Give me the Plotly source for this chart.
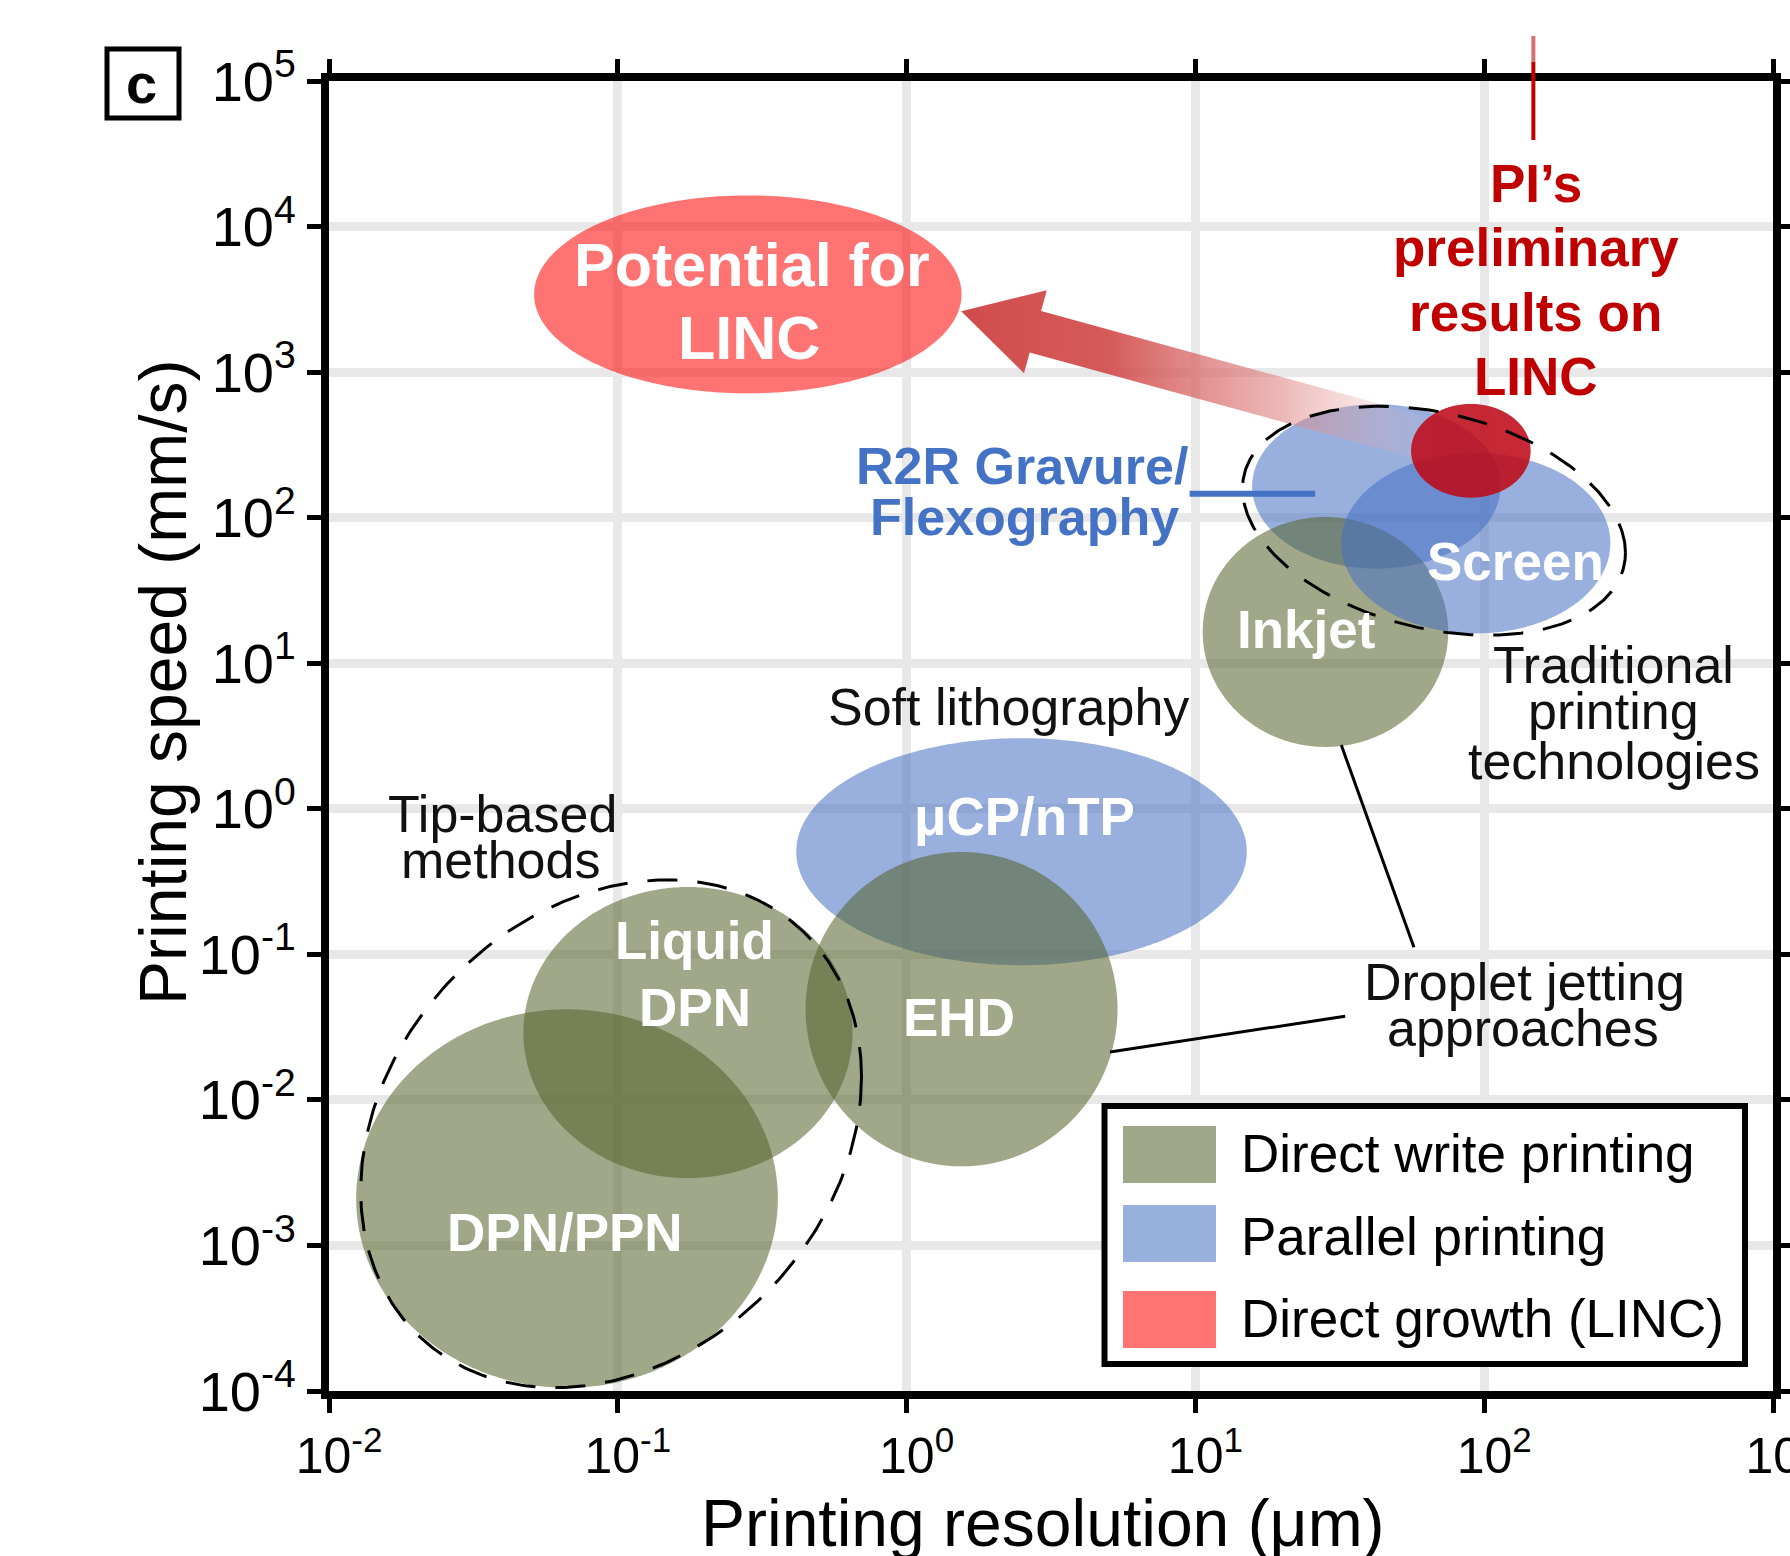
import numpy as np
import plotly.graph_objects as go

# ---------------- data ----------------
x_tick_exp = [-2, -1, 0, 1, 2, 3]
y_tick_exp = [-4, -3, -2, -1, 0, 1, 2, 3, 4, 5]
x_tick_labels = ["10<sup>-2</sup>", "10<sup>-1</sup>", "10<sup>0</sup>", "10<sup>1</sup>", "10<sup>2</sup>", "10<sup>3</sup>"]
y_tick_labels = ["10<sup>-4</sup>", "10<sup>-3</sup>", "10<sup>-2</sup>", "10<sup>-1</sup>", "10<sup>0</sup>",
                 "10<sup>1</sup>", "10<sup>2</sup>", "10<sup>3</sup>", "10<sup>4</sup>", "10<sup>5</sup>"]

# technology regions (drawing order); centre in µm / mm/s, half extent in decades
region_name = ["μCP/nTP", "DPN/PPN", "Liquid DPN", "EHD", "R2R Gravure/Flexography",
               "Inkjet", "Screen", "Potential for LINC", "PI’s preliminary results"]
region_cat = ["parallel", "direct", "direct", "direct", "parallel",
              "direct", "parallel", "linc", "pi"]
region_res_um = [2.50, 0.0667, 0.175, 1.55, 42.3, 28.2, 93.5, 0.282, 89.9]
region_speed = [0.507, 0.00210, 0.0290, 0.0420, 164, 16.4, 66.8, 3420, 288]
region_half_w_dec = [0.78, 0.73, 0.57, 0.54, 0.43, 0.425, 0.466, 0.74, 0.207]
region_half_h_dec = [0.78, 1.30, 1.00, 1.08, 0.565, 0.79, 0.62, 0.68, 0.322]

# dashed group outlines
group_name = ["Tip-based methods", "Traditional printing technologies"]
group_res_um = [0.0948, 67.0]
group_speed = [0.00585, 95.3]
group_half_w_dec = [0.867, 0.663]
group_half_h_dec = [1.70, 0.755]
group_tilt_dec = [0.39, -0.22]

# arrow from PI's results to the LINC potential
arrow_from = (75.5, 314.0)
arrow_to = (1.545, 2618.0)

# leader lines (µm, mm/s)
leader_res = [[32.0, 57.1], [5.06, 33.0]]
leader_speed = [[2.74, 0.1117], [0.0213, 0.0376]]
r2r_leader_res = [9.55, 26.0]
r2r_leader_speed = [146, 146]
pi_line_res = 148.0

# text labels
label_text = ["Potential for", "LINC", "PI’s", "preliminary", "results on", "LINC",
              "R2R Gravure/", "Flexography", "Screen", "Inkjet",
              "Traditional", "printing", "technologies", "Soft lithography",
              "μCP/nTP", "EHD", "Tip-based", "methods", "Liquid", "DPN", "DPN/PPN",
              "Droplet jetting", "approaches"]
label_res_um = [0.291, 0.284, 151, 151, 151, 151,
                2.51, 2.55, 128, 24.2,
                281, 281, 281, 2.25,
                2.55, 1.52, 0.0399, 0.0394, 0.185, 0.185, 0.0658,
                138, 136]
label_speed = [5410, 1710, 19800, 7180, 2550, 940,
               227, 101, 50.0, 17.1,
               9.68, 4.69, 2.13, 5.00,
               0.881, 0.0370, 0.925, 0.448, 0.125, 0.0434, 0.00123,
               0.0643, 0.0311]
label_style = ["linc", "linc", "pi", "pi", "pi", "pi",
               "r2r", "r2r", "inner", "inner",
               "note", "note", "note", "note",
               "inner", "inner", "note", "note", "inner", "inner", "inner",
               "note", "note"]

legend_labels = ["Direct write printing", "Parallel printing", "Direct growth (LINC)"]
legend_colors = ["#A0A88A", "#98B0DE", "#FF7373"]

# ---------------- styles ----------------
FONT = "Liberation Sans, Arial, sans-serif"
cat_fill = {"direct": "rgba(85,99,45,0.56)", "parallel": "rgba(69,112,195,0.55)",
            "linc": "rgba(255,0,0,0.55)", "pi": "rgba(190,10,25,0.88)"}
text_style = {"linc": dict(color="white", size=61, bold=True),
              "pi": dict(color="#C00000", size=53, bold=True),
              "r2r": dict(color="#4472C4", size=52, bold=True),
              "inner": dict(color="white", size=53, bold=True),
              "note": dict(color="#111111", size=52, bold=False)}

# plot geometry (for aspect-correct arrow)
ML, MR, MT, MB = 329, 17, 81, 165
PLOT_W, PLOT_H = 1790 - ML - MR, 1556 - MT - MB
PX_X = PLOT_W / 5.0
PX_Y = PLOT_H / 9.0


def ellipse(cx, cy, a, b, k=0.0, n=361):
    t = np.linspace(0, 2 * np.pi, n)
    lx = np.log10(cx) + a * np.cos(t)
    ly = np.log10(cy) + b * np.sin(t) + k * np.cos(t)
    return 10 ** lx, 10 ** ly


fig = go.Figure()

arrow_drawn = False
for name, cat, cx, cy, a, b in zip(region_name, region_cat, region_res_um, region_speed,
                                   region_half_w_dec, region_half_h_dec):
    if cat == "pi" and not arrow_drawn:
        tx, ty = np.log10(arrow_from[0]) * PX_X, -np.log10(arrow_from[1]) * PX_Y
        hx, hy = np.log10(arrow_to[0]) * PX_X, -np.log10(arrow_to[1]) * PX_Y
        d = np.array([hx - tx, hy - ty])
        u = d / np.linalg.norm(d)
        nrm = np.array([u[1], -u[0]])
        tip = np.array([hx, hy])
        tail = np.array([tx, ty])
        head_len, head_hw, shaft_hw = 77.0, 43.0, 21.5
        back = tip - head_len * u
        pts = [tip, back + head_hw * nrm, back + shaft_hw * nrm, tail + shaft_hw * nrm,
               tail - shaft_hw * nrm, back - shaft_hw * nrm, back - head_hw * nrm, tip]
        px_ = np.array([p[0] for p in pts]) / PX_X
        py_ = -np.array([p[1] for p in pts]) / PX_Y
        fig.add_trace(go.Scatter(
            x=10 ** px_, y=10 ** py_, mode="none", fill="toself", hoverinfo="skip",
            fillgradient=dict(type="horizontal",
                              colorscale=[[0, "rgba(206,70,70,0.97)"], [0.3, "rgba(210,76,76,0.92)"],
                                          [0.65, "rgba(222,125,125,0.55)"], [1, "rgba(240,200,200,0.0)"]])))
        arrow_drawn = True
    ex, ey = ellipse(cx, cy, a, b)
    fig.add_trace(go.Scatter(x=ex, y=ey, mode="none", fill="toself", fillcolor=cat_fill[cat],
                             name=name, hoverinfo="skip"))

for name, cx, cy, a, b, k in zip(group_name, group_res_um, group_speed, group_half_w_dec,
                                 group_half_h_dec, group_tilt_dec):
    ex, ey = ellipse(cx, cy, a, b, k)
    fig.add_trace(go.Scatter(x=ex, y=ey, mode="lines", name=name, hoverinfo="skip",
                             line=dict(color="black", width=3, dash="30px,20px")))

for lx, ly in zip(leader_res, leader_speed):
    fig.add_trace(go.Scatter(x=lx, y=ly, mode="lines", hoverinfo="skip",
                             line=dict(color="black", width=3)))
fig.add_trace(go.Scatter(x=r2r_leader_res, y=r2r_leader_speed, mode="lines", hoverinfo="skip",
                         line=dict(color="#4472C4", width=6)))

annotations = []
for txt, xv, yv, st in zip(label_text, label_res_um, label_speed, label_style):
    s = text_style[st]
    annotations.append(dict(
        x=np.log10(xv), y=np.log10(yv), xref="x", yref="y", text=txt, showarrow=False,
        xanchor="center", yanchor="middle",
        font=dict(family=FONT, size=s["size"], color=s["color"],
                  weight="bold" if s["bold"] else "normal")))


def px_to_paper(X, Y):
    return (X - ML) / PLOT_W, (1556 - MB - Y) / PLOT_H


# axis titles
tx_, ty_ = px_to_paper(1043, 1523)
annotations.append(dict(x=tx_, y=ty_, xref="paper", yref="paper",
                        text="Printing resolution (μm)", showarrow=False,
                        xanchor="center", yanchor="middle",
                        font=dict(family=FONT, size=66, color="black")))
tx_, ty_ = px_to_paper(163, 682)
annotations.append(dict(x=tx_, y=ty_, xref="paper", yref="paper",
                        text="Printing speed (mm/s)", showarrow=False, textangle=-90,
                        xanchor="center", yanchor="middle",
                        font=dict(family=FONT, size=66, color="black")))
# panel label
tx_, ty_ = px_to_paper(142, 84)
annotations.append(dict(x=tx_, y=ty_, xref="paper", yref="paper", text="c",
                        showarrow=False, xanchor="center", yanchor="middle",
                        font=dict(family=FONT, size=56, color="black", weight="bold")))

shapes = []
bx0, by0 = px_to_paper(107, 118)
bx1, by1 = px_to_paper(179, 49)
shapes.append(dict(type="rect", xref="paper", yref="paper", x0=bx0, x1=bx1,
                   y0=by0, y1=by1, line=dict(color="black", width=5),
                   fillcolor="rgba(0,0,0,0)"))
# PI's leader line above the plot
_, p140 = px_to_paper(0, 140)
_, p62 = px_to_paper(0, 62)
_, p36 = px_to_paper(0, 36)
shapes.append(dict(type="line", xref="x", yref="paper", x0=pi_line_res, x1=pi_line_res,
                   y0=p140, y1=p62, line=dict(color="#C00000", width=4)))
shapes.append(dict(type="line", xref="x", yref="paper", x0=pi_line_res, x1=pi_line_res,
                   y0=p62, y1=p36, line=dict(color="#D87070", width=4)))

# legend box
lx0, ly0 = px_to_paper(1104.5, 1364)
lx1, ly1 = px_to_paper(1745, 1106)
shapes.append(dict(type="rect", xref="paper", yref="paper", x0=lx0, x1=lx1,
                   y0=ly0, y1=ly1, line=dict(color="black", width=6), fillcolor="white",
                   layer="above"))
sw_px = [(1126, 1183), (1205, 1262), (1291, 1348)]
txt_px = [1153.5, 1236.5, 1318.5]
for lab, col, (ya, yb), tyy in zip(legend_labels, legend_colors, sw_px, txt_px):
    sx0, sy0 = px_to_paper(1123, yb)
    sx1, sy1 = px_to_paper(1216, ya)
    shapes.append(dict(type="rect", xref="paper", yref="paper", x0=sx0, x1=sx1,
                       y0=sy0, y1=sy1, line=dict(width=0), fillcolor=col, layer="above"))
    ax_, ay_ = px_to_paper(1238.5, tyy)
    annotations.append(dict(x=ax_, y=ay_, xref="paper", yref="paper", text=lab,
                            showarrow=False, xanchor="left", yanchor="middle",
                            font=dict(family=FONT, size=53, color="black")))

axis_common = dict(type="log", showline=True, linewidth=8, linecolor="black", mirror="ticks",
                   ticks="outside", ticklen=14, tickwidth=5, tickcolor="black",
                   showgrid=True, gridcolor="#e8e8e8", gridwidth=9, zeroline=False,
                   automargin=False, ticklabeloverflow="allow")

fig.update_xaxes(range=[-2, 3], tickvals=[10.0 ** e for e in x_tick_exp], ticktext=x_tick_labels,
                 tickfont=dict(family=FONT, size=50, color="black"), ticklabelshift=10,
                 **axis_common)
fig.update_yaxes(range=[-4, 5], tickvals=[10.0 ** e for e in y_tick_exp], ticktext=y_tick_labels,
                 tickfont=dict(family=FONT, size=56, color="black"), **axis_common)

fig.update_layout(template="none", width=1790, height=1556,
                  margin=dict(l=ML, r=MR, t=MT, b=MB, pad=0),
                  plot_bgcolor="white", paper_bgcolor="white", showlegend=False,
                  font=dict(family=FONT, color="black"),
                  annotations=annotations, shapes=shapes)

fig.write_html("out.html", config={"displayModeBar": False},
               post_script="document.body.style.margin='0';")
